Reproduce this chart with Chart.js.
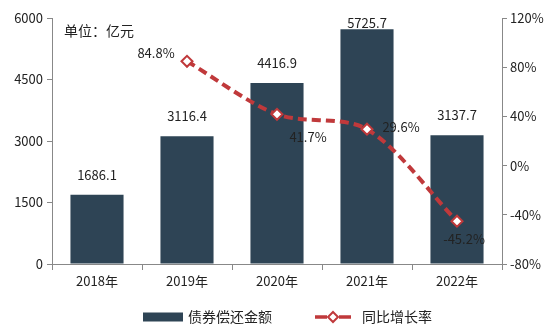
<!DOCTYPE html>
<html>
<head>
<meta charset="utf-8">
<script src="https://cdn.jsdelivr.net/npm/chart.js@4"></script>
<style>
html,body{margin:0;padding:0;background:#fff;}
#wrap{width:553px;height:333px;position:relative;}
</style>
</head>
<body>
<div id="wrap"><canvas id="c" width="553" height="333"></canvas></div>
<script>
const categories = ['2018年', '2019年', '2020年', '2021年', '2022年'];
const repayment = [1686.1, 3116.4, 4416.9, 5725.7, 3137.7];
const growth = [null, 84.8, 41.7, 29.6, -45.2];
const leftTicks = [0, 1500, 3000, 4500, 6000];
const rightTicks = [-80, -40, 0, 40, 80, 120];
const seriesNames = ['债券偿还金额', '同比增长率'];
const unitLabel = '单位：亿元';

const BAR_COLOR = '#2e4455';
const LINE_COLOR = '#c0393b';
const FONT = '"Noto Sans CJK SC", "Noto Sans", sans-serif';
const TEXT = '#222';

const labelPlugin = {
  id: 'labels',
  afterDatasetsDraw(chart) {
    const ctx = chart.ctx;
    const area = chart.chartArea;
    ctx.save();
    ctx.fillStyle = TEXT;
    ctx.font = '13px ' + FONT;
    ctx.textAlign = 'center';
    ctx.textBaseline = 'middle';
    // bar value labels
    const barMeta = chart.getDatasetMeta(1);
    barMeta.data.forEach((el, i) => {
      const y = Math.max(el.y - 20, area.top + 5);
      ctx.fillText(repayment[i].toFixed(1), el.x, y);
    });
    // line value labels
    const lineMeta = chart.getDatasetMeta(0);
    const place = [null, 'left', 'belowright', 'right', 'below'];
    lineMeta.data.forEach((el, i) => {
      if (growth[i] === null) return;
      const t = growth[i].toFixed(1) + '%';
      let x = el.x, y = el.y;
      const p = place[i];
      if (p === 'left') { x -= 31; y -= 8; }
      else if (p === 'right') { x += 34; y -= 2; }
      else if (p === 'belowright') { x += 31; y += 23; }
      else if (p === 'below') { x += 7; y += 18; }
      ctx.fillText(t, x, y);
    });
    // unit label
    ctx.textAlign = 'left';
    ctx.font = '14px ' + FONT;
    ctx.fillText(unitLabel, 64, 31);
    ctx.restore();
  },
  afterDraw(chart) {
    const ctx = chart.ctx;
    ctx.save();
    const cy = 317;
    // bar legend
    ctx.fillStyle = BAR_COLOR;
    ctx.fillRect(143, cy - 4.5, 40, 9);
    ctx.fillStyle = TEXT;
    ctx.font = '14px ' + FONT;
    ctx.textAlign = 'left';
    ctx.textBaseline = 'middle';
    ctx.fillText(seriesNames[0], 188, cy);
    // line legend
    ctx.strokeStyle = LINE_COLOR;
    ctx.lineWidth = 3.5;
    ctx.beginPath();
    ctx.moveTo(315, cy); ctx.lineTo(327, cy);
    ctx.moveTo(339, cy); ctx.lineTo(351, cy);
    ctx.stroke();
    ctx.beginPath();
    ctx.moveTo(333, cy - 5); ctx.lineTo(338, cy); ctx.lineTo(333, cy + 5); ctx.lineTo(328, cy);
    ctx.closePath();
    ctx.fillStyle = '#fff';
    ctx.fill();
    ctx.lineWidth = 2;
    ctx.stroke();
    ctx.fillStyle = TEXT;
    ctx.fillText(seriesNames[1], 362, cy);
    ctx.restore();
  }
};

new Chart(document.getElementById('c'), {
  type: 'bar',
  data: {
    labels: categories,
    datasets: [
      {
        type: 'line',
        label: seriesNames[1],
        data: growth,
        yAxisID: 'y1',
        borderColor: LINE_COLOR,
        borderWidth: 4,
        borderDash: [9, 5],
        tension: 0.3,
        pointStyle: 'rectRot',
        pointRadius: 5.5,
        pointBorderWidth: 2,
        pointBackgroundColor: '#fff',
        pointBorderColor: LINE_COLOR,
        order: 0,
        spanGaps: false
      },
      {
        type: 'bar',
        label: seriesNames[0],
        data: repayment,
        yAxisID: 'y',
        backgroundColor: BAR_COLOR,
        barPercentage: 0.59,
        categoryPercentage: 1,
        order: 1
      }
    ]
  },
  options: {
    responsive: false,
    animation: false,
    devicePixelRatio: 1,
    layout: { padding: { top: 18, left: 0, right: 0, bottom: 39 } },
    plugins: { legend: { display: false }, tooltip: { enabled: false } },
    scales: {
      x: {
        offset: true,
        grid: { display: true, offset: true, drawOnChartArea: false, drawTicks: true, tickLength: 6, color: '#888' },
        border: { display: true, color: '#888' },
        ticks: { color: TEXT, font: { family: FONT, size: 13 }, padding: 3, maxRotation: 0 },
        afterFit(s) { s.height = 30; }
      },
      y: {
        position: 'left',
        min: 0, max: 6000,
        afterBuildTicks(s) { s.ticks = leftTicks.map(v => ({ value: v })); },
        grid: { display: true, drawOnChartArea: false, drawTicks: true, tickLength: 5, color: '#888' },
        border: { display: true, color: '#888' },
        ticks: { color: TEXT, font: { family: FONT, size: 13 }, padding: 4, callback: v => String(v) },
        afterFit(s) { s.width = 52; }
      },
      y1: {
        position: 'right',
        min: -80, max: 120,
        afterBuildTicks(s) { s.ticks = rightTicks.map(v => ({ value: v })); },
        grid: { display: true, drawOnChartArea: false, drawTicks: true, tickLength: 5, color: '#888' },
        border: { display: true, color: '#888' },
        ticks: { color: TEXT, font: { family: FONT, size: 13 }, padding: 3, callback: v => v + '%' },
        afterFit(s) { s.width = 51; }
      }
    }
  },
  plugins: [labelPlugin]
});
</script>
</body>
</html>
